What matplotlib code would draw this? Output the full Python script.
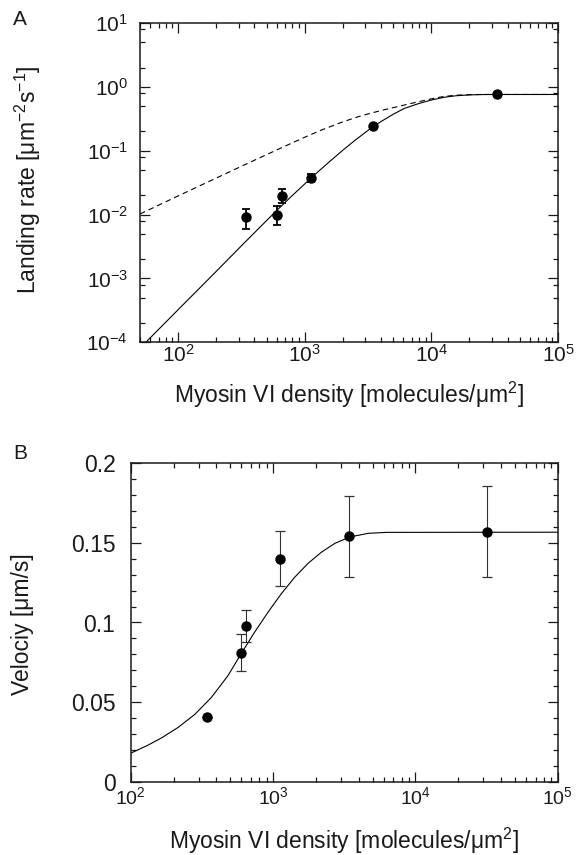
import matplotlib
matplotlib.use("Agg")
import matplotlib.pyplot as plt
from matplotlib.ticker import LogLocator, MultipleLocator, FuncFormatter, NullFormatter

plt.rcParams['font.family'] = ['Liberation Sans', 'DejaVu Sans']
plt.rcParams['mathtext.default'] = 'regular'
plt.rcParams['axes.unicode_minus'] = True

TXT = '#1a1a1a'

# ---------------- Panel A data ----------------
a_density = [346, 603, 657, 1127, 3470, 32800]
a_rate = [0.00914, 0.0098, 0.0195, 0.0377, 0.240, 0.76]
a_err_low = [0.00593, 0.00686, 0.0151, 0.0326, 0.240, 0.76]
a_err_high = [0.0122, 0.0137, 0.0254, 0.0435, 0.240, 0.76]

# fitted curves, sampled by reading the picture
a_solid_x = [50, 100, 200, 316, 501, 631, 794, 1000, 1127, 1259, 1585, 1995, 2512, 3162, 3467,
             3981, 5012, 6110, 7943, 10000, 12589, 13500, 15849, 19953, 25119, 31623, 100000]
a_solid_y = [8.1e-5, 3.24e-4, 1.29e-3, 3.24e-3, 8.1e-3, 0.01274, 0.01972, 0.0302, 0.0377, 0.0459,
             0.0686, 0.1015, 0.1473, 0.2082, 0.2372, 0.2848, 0.3736, 0.459, 0.548, 0.622, 0.685,
             0.70, 0.727, 0.748, 0.758, 0.76, 0.76]
a_dash_x = [50, 100, 200, 398, 794, 1000, 1340, 1995, 2773, 3981, 6110, 7943, 10000, 11220,
            12589, 15849, 19953, 25119, 100000]
a_dash_y = [0.0102, 0.0196, 0.0373, 0.0706, 0.1324, 0.1626, 0.209, 0.283, 0.351, 0.425, 0.519,
            0.586, 0.649, 0.679, 0.708, 0.741, 0.755, 0.76, 0.76]

# ---------------- Panel B data ----------------
b_density = [343, 593, 649, 1112, 3420, 32000]
b_vel = [0.0407, 0.0811, 0.0978, 0.140, 0.1539, 0.1568]
b_err_low = [0.0407, 0.0698, 0.0878, 0.1226, 0.1282, 0.1282]
b_err_high = [0.0407, 0.0926, 0.108, 0.1574, 0.1793, 0.1856]

b_curve_x = [100, 132, 164, 215, 282, 368, 483, 598, 743, 923, 1143, 1419, 1762, 2188, 2716,
             3459, 4656, 6300, 100000]
b_curve_y = [0.0182, 0.0232, 0.0277, 0.0343, 0.0425, 0.0530, 0.0668, 0.0806, 0.0940, 0.1065,
             0.1180, 0.1283, 0.1370, 0.1440, 0.1495, 0.1535, 0.1558, 0.1564, 0.1565]

W, H = 576, 855
fig = plt.figure(figsize=(W / 100, H / 100), dpi=100)


def axes_px(left, top, right, bottom):
    return fig.add_axes([left / W, 1 - bottom / H, (right - left) / W, (bottom - top) / H])


def style(ax, xsize, ysize, xpad, ypad):
    for s in ax.spines.values():
        s.set_linewidth(1.1)
        s.set_color(TXT)
    ax.tick_params(which='both', direction='in', top=True, right=True, colors=TXT, width=0.9)
    ax.tick_params(which='major', length=7)
    ax.tick_params(which='minor', length=3.5)
    ax.tick_params(axis='x', pad=xpad, labelsize=xsize)
    ax.tick_params(axis='y', pad=ypad, labelsize=ysize)


# ---------------- Panel A ----------------
axA = axes_px(140, 23, 558, 342.3)
axA.set_xscale('log')
axA.set_yscale('log')
axA.set_xlim(50, 1e5)
axA.set_ylim(1e-4, 10)
axA.plot(a_dash_x, a_dash_y, color='black', lw=0.8, ls=(0, (5, 3.5)))
axA.plot(a_solid_x, a_solid_y, color='black', lw=0.8)
yerrA = [[v - lo for v, lo in zip(a_rate, a_err_low)], [hi - v for v, hi in zip(a_rate, a_err_high)]]
axA.errorbar(a_density, a_rate, yerr=yerrA, fmt='o', color='black', ms=6.5,
             elinewidth=1.3, capsize=3.1, capthick=1.3, zorder=5)
axA.xaxis.set_major_locator(LogLocator(base=10, numticks=10))
axA.xaxis.set_minor_locator(LogLocator(base=10, subs=[2, 3, 4, 5, 6, 7, 8, 9], numticks=20))
axA.yaxis.set_major_locator(LogLocator(base=10, numticks=10))
axA.yaxis.set_minor_locator(LogLocator(base=10, subs=[2, 5, 8], numticks=20))
axA.xaxis.set_minor_formatter(NullFormatter())
axA.yaxis.set_minor_formatter(NullFormatter())
style(axA, 15, 15, 1.5, 8.5)
axA.set_xlabel('Myosin VI density [molecules/μm$^{2}$]', fontsize=16.5, color=TXT)
axA.xaxis.set_label_coords(0.5, -0.118)
axA.set_ylabel('Landing rate [μm$^{-2}$s$^{-1}$]', fontsize=16.5, color=TXT)
axA.yaxis.set_label_coords(-0.232, 0.51)

# ---------------- Panel B ----------------
axB = axes_px(130.7, 462.7, 557.7, 782.3)
axB.set_xscale('log')
axB.set_xlim(100, 1e5)
axB.set_ylim(0, 0.2)
axB.plot(b_curve_x, b_curve_y, color='black', lw=0.8)
yerrB = [[v - lo for v, lo in zip(b_vel, b_err_low)], [hi - v for v, hi in zip(b_vel, b_err_high)]]
axB.errorbar(b_density, b_vel, yerr=yerrB, fmt='o', color='black', ms=6.5,
             ecolor='#333333', elinewidth=0.8, capsize=3.5, capthick=0.9, zorder=5)
axB.xaxis.set_major_locator(LogLocator(base=10, numticks=10))
axB.xaxis.set_minor_locator(LogLocator(base=10, subs=[2, 3, 4, 5, 6, 7, 8, 9], numticks=20))
axB.xaxis.set_minor_formatter(NullFormatter())
axB.yaxis.set_major_locator(MultipleLocator(0.05))
axB.yaxis.set_minor_locator(MultipleLocator(0.01))
axB.yaxis.set_major_formatter(FuncFormatter(lambda v, p: ('%g' % round(v, 3))))
style(axB, 14, 16.5, 3, 11)
axB.set_xlabel('Myosin VI density [molecules/μm$^{2}$]', fontsize=16.5, color=TXT)
axB.xaxis.set_label_coords(0.5, -0.136)
axB.set_ylabel('Velociy [μm/s]', fontsize=16.5, color=TXT)
axB.yaxis.set_label_coords(-0.226, 0.495)

fig.text(12.7 / W, 1 - 25 / H, 'A', fontsize=15, color=TXT, ha='left', va='baseline')
fig.text(12.9 / W, 1 - 459.3 / H, 'B', fontsize=15, color=TXT, ha='left', va='baseline')

fig.savefig('out.png', dpi=100)
